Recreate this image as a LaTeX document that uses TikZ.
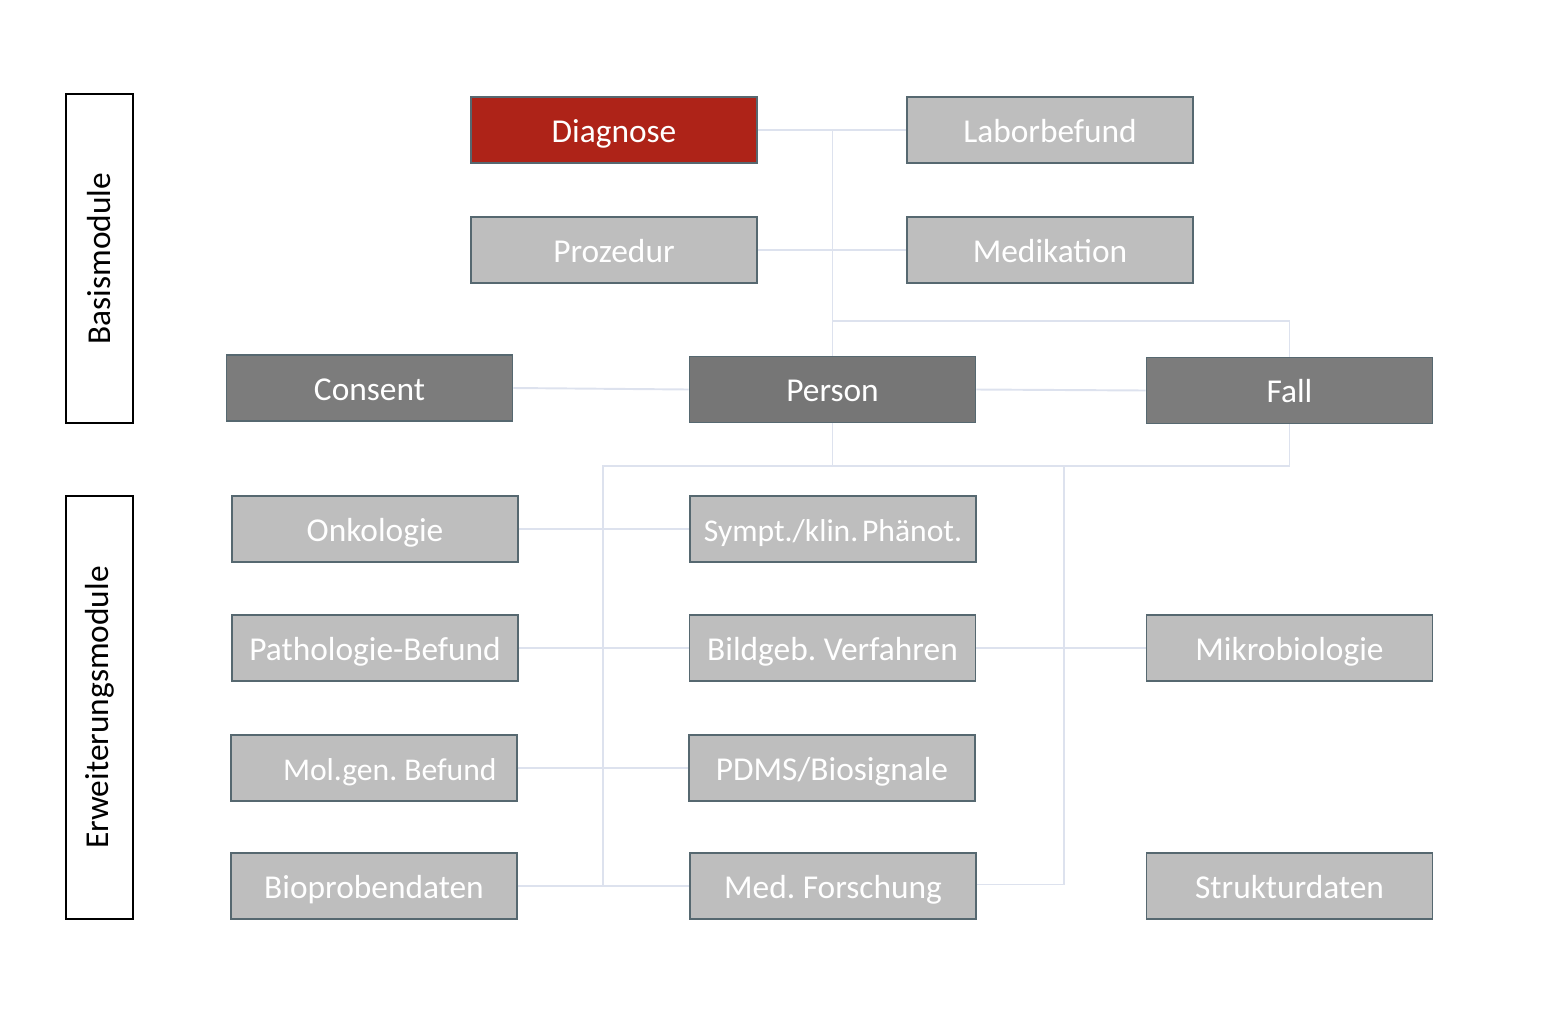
\documentclass[tikz,border=0pt]{standalone}
\usepackage{fontspec}
\setmainfont{Carlito}
\usepackage{xcolor}
\definecolor{modRed}{HTML}{AE2318}
\definecolor{modLight}{HTML}{BEBEBE}
\definecolor{modDark}{HTML}{7C7C7C}
\definecolor{modEdge}{HTML}{566870}
\definecolor{modLink}{HTML}{DDE2EE}
\usepackage{tikz}
\usetikzlibrary{calc}
\frenchspacing

\tikzset{
  modbox/.style={draw=modEdge, line width=1.1pt, fill=modLight, text=white,
    minimum width=5.72cm, minimum height=1.32cm, inner sep=0pt,
    text height=0.6cm, text depth=0.12cm,
    font=\fontsize{19}{23}\selectfont},
  tightbox/.style={modbox, font=\fontsize{18}{22}\selectfont},
  corebox/.style={modbox, fill=modDark},
  redbox/.style={modbox, fill=modRed},
  sidebox/.style={draw=black, line width=1.1pt, minimum width=1.34cm, inner sep=0pt},
  link/.style={draw=modLink, line width=1.1pt}
}

\begin{document}
\begin{tikzpicture}
  \useasboundingbox (0,0) rectangle (31.36,-20.52);
  % ---- side labels ----
  \node[sidebox, minimum height=6.58cm] (basis) at (1.99,-5.17) {};
  \node[rotate=90, font=\fontsize{19}{23}\selectfont] at (basis.center) {Basismodule};
  \node[sidebox, minimum height=8.46cm] (erw) at (1.99,-14.15) {};
  \node[rotate=90, font=\fontsize{19}{23}\selectfont] at (erw.center) {Erweiterungsmodule};
  % ---- basic modules ----
  \node[redbox] (diag) at (12.28,-2.6) {Diagnose};
  \node[modbox] (labor) at (21.0,-2.6) {Laborbefund};
  \node[modbox] (proz) at (12.28,-5.0) {Prozedur};
  \node[modbox] (medi) at (21.0,-5.0) {Medikation};
  \node[corebox] (consent) at (7.39,-7.76) {Consent};
  \node[corebox, fill=modDark!95!black] (person) at (16.65,-7.79) {Person};
  \node[corebox] (fall) at (25.79,-7.81) {Fall};
  % ---- extension modules ----
  \node[modbox] (onko) at (7.5,-10.58) {Onkologie};
  \node[tightbox] (sympt) at (16.66,-10.58) {Sympt./klin.\kern0.12em Phänot.};
  \node[modbox] (patho) at (7.5,-12.96) {Pathologie-Befund};
  \node[modbox] (bild) at (16.65,-12.96) {Bildgeb. Verfahren};
  \node[modbox] (mikro) at (25.79,-12.96) {Mikrobiologie};
  \node[tightbox] (molgen) at (7.48,-15.36) {\hspace{1em}Mol.gen. Befund};
  \node[modbox] (pdms) at (16.64,-15.36) {PDMS/Biosignale};
  \node[modbox] (biopro) at (7.48,-17.72) {Bioprobendaten};
  \node[modbox] (medfo) at (16.66,-17.72) {Med. Forschung};
  \node[modbox] (struk) at (25.79,-17.72) {Strukturdaten};
  % ---- connectors ----
  \coordinate (jtop) at (16.65,-6.42);
  \coordinate (jl) at (12.06,-9.32);
  \coordinate (jr) at (21.28,-9.32);
  \draw[link] (diag.east) -- (labor.west);
  \draw[link] (proz.east) -- (medi.west);
  \draw[link] (person.north) -- (person.north |- diag.east);
  \draw[link] (jtop) -| (fall.north);
  \draw[link] (consent.east) -- (person.west);
  \draw[link] (person.east) -- (fall.west);
  \draw[link] (person.south) -- (person.south |- jl);
  \draw[link] (fall.south) |- (jl) -- (jl |- biopro.east);
  \draw[link] (jr) |- ($(medfo.east)+(0,0.03)$);
  \draw[link] (onko.east) -- (sympt.west);
  \draw[link] (patho.east) -- (bild.west);
  \draw[link] (bild.east) -- (mikro.west);
  \draw[link] (molgen.east) -- (pdms.west);
  \draw[link] (biopro.east) -- (medfo.west);
\end{tikzpicture}
\end{document}
